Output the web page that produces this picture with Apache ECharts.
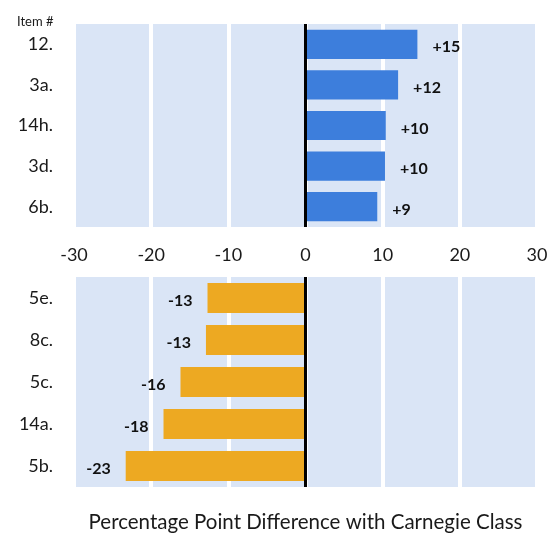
<!DOCTYPE html>
<html>
<head>
<meta charset="utf-8">
<script src="https://cdn.jsdelivr.net/npm/echarts@6/dist/echarts.min.js"></script>
<style>
  html, body { margin: 0; padding: 0; background: #fff; }
  #chart { width: 551px; height: 533px; }
</style>
</head>
<body>
<div id="chart"></div>
<script>
// top panel (positive differences)
var topItems = ["12.", "3a.", "14h.", "3d.", "6b."];
var topValues = [14.5, 12.0, 10.4, 10.3, 9.3];
var topLabels = ["+15", "+12", "+10", "+10", "+9"];

// bottom panel (negative differences)
var bottomItems = ["5e.", "8c.", "5c.", "14a.", "5b."];
var bottomValues = [-12.7, -12.9, -16.2, -18.4, -23.3];
var bottomLabels = ["-13", "-13", "-16", "-18", "-23"];

var xTicks = { min: -30, max: 30, interval: 10 };

var font = "Lato";
var bandColor = "#dae5f6";

var chart = echarts.init(document.getElementById("chart"));

function xAxisFor(gridIndex, showLabels) {
  return {
    type: "value",
    gridIndex: gridIndex,
    min: xTicks.min,
    max: xTicks.max,
    interval: xTicks.interval,
    axisLine: { show: false },
    axisTick: { show: false },
    axisLabel: {
      show: showLabels,
      color: "#1a1a1a",
      fontFamily: font,
      fontSize: 18,
      margin: 19
    },
    splitLine: {
      show: true,
      lineStyle: { color: "#ffffff", width: 4 }
    }
  };
}

function yAxisFor(gridIndex, items) {
  return {
    type: "category",
    gridIndex: gridIndex,
    data: items,
    inverse: true,
    axisLine: { show: false },
    axisTick: { show: false },
    axisLabel: {
      color: "#1a1a1a",
      fontFamily: font,
      fontSize: 18,
      margin: 21
    }
  };
}

function barSeries(idx, values, labels, color, pos) {
  return {
    type: "bar",
    xAxisIndex: idx,
    yAxisIndex: idx,
    data: values,
    barWidth: "72%",
    itemStyle: { color: color },
    label: {
      show: true,
      position: pos,
      distance: 15,
      offset: [0, 3],
      color: "#111",
      fontFamily: font,
      fontWeight: "bold",
      fontSize: 16,
      formatter: function (p) { return labels[p.dataIndex]; }
    },
    markLine: {
      silent: true,
      symbol: "none",
      label: { show: false },
      lineStyle: { color: "#000", width: 3, type: "solid" },
      data: [{ xAxis: 0 }]
    }
  };
}

var option = {
  backgroundColor: "#ffffff",
  animation: false,
  title: {
    text: "Item #",
    left: 12,
    top: 10,
    textStyle: { color: "#1a1a1a", fontFamily: font, fontSize: 13, fontWeight: "normal" }
  },
  grid: [
    { left: 74, right: 14, top: 24, height: 203, show: true, backgroundColor: bandColor, borderWidth: 0, outerBoundsMode: "none" },
    { left: 74, right: 14, top: 277, height: 210, show: true, backgroundColor: bandColor, borderWidth: 0, outerBoundsMode: "none" }
  ],
  xAxis: [
    xAxisFor(0, true),
    Object.assign(xAxisFor(1, false), {
      name: "Percentage Point Difference with Carnegie Class",
      nameLocation: "middle",
      nameGap: 25,
      nameTextStyle: { color: "#1a1a1a", fontFamily: font, fontSize: 20.5 }
    })
  ],
  yAxis: [yAxisFor(0, topItems), yAxisFor(1, bottomItems)],
  series: [
    barSeries(0, topValues, topLabels, "#3d7edc", "right"),
    barSeries(1, bottomValues, bottomLabels, "#eda922", "left")
  ]
};

chart.setOption(option);
</script>
</body>
</html>
